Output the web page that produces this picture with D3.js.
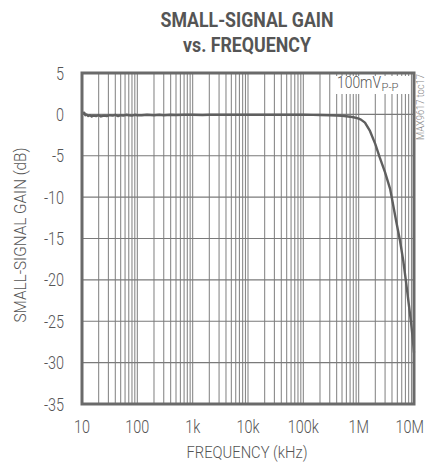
<!DOCTYPE html>
<html><head><meta charset="utf-8">
<script src="https://cdn.jsdelivr.net/npm/d3@7"></script>
<style>body{margin:0;background:#fff}</style>
</head><body><svg id="c" width="427" height="463"></svg>
<script>
const freq = [10, 10.5, 11, 11.5, 12, 13, 14, 15, 16, 18, 20, 22, 25, 28, 32, 36, 40, 45, 50, 56, 63, 70, 80, 90, 100, 120, 150, 200, 250, 300, 400, 500, 700, 1000, 1500, 2000, 3000, 5000, 7000, 10000, 15000, 20000, 30000, 50000, 70000, 100000, 150000, 200000, 300000, 400000, 500000, 600000, 700000, 800000, 900000, 1000000, 1100000, 1300000, 1600000, 2000000, 2400000, 3000000, 3700000, 4000000, 4700000, 5600000, 6400000, 7200000, 8000000, 8800000, 9400000, 10000000];
const gain = [0.3, 0.1, 0.2, -0.1, 0.0, -0.2, -0.1, -0.25, -0.15, -0.2, -0.1, -0.25, -0.15, -0.2, -0.1, -0.15, -0.05, -0.2, -0.1, -0.15, -0.05, -0.1, -0.15, -0.05, -0.1, -0.1, -0.05, -0.1, -0.05, -0.1, -0.05, -0.08, -0.05, -0.05, -0.08, -0.05, -0.05, -0.05, -0.05, -0.05, -0.05, -0.05, -0.05, -0.05, -0.05, -0.05, -0.06, -0.08, -0.1, -0.13, -0.17, -0.22, -0.28, -0.35, -0.43, -0.52, -0.63, -1.0, -2.0, -3.6, -5.2, -7.0, -9.0, -10.2, -12.7, -15.3, -17.7, -20.3, -22.8, -25.0, -26.8, -28.8];
const xTicks = [10, 100, 1e3, 1e4, 1e5, 1e6, 1e7];
const xTickLabels = ["10", "100", "1k", "10k", "100k", "1M", "10M"];
const yTicks = [5, 0, -5, -10, -15, -20, -25, -30, -35];
const titleLines = ["SMALL-SIGNAL GAIN", "vs. FREQUENCY"];
const xTitle = "FREQUENCY (kHz)";
const yTitle = "SMALL-SIGNAL GAIN (dB)";
const legendMain = "100mV";
const legendSub = "P-P";
const sideNote = "MAX9617 toc17";

const FONT = "Roboto,'Liberation Sans',sans-serif";
const svg = d3.select("#c");
const L = 82, R = 414, T = 73, B = 404;
const x = d3.scaleLog().domain([10, 1e7]).range([L, R]);
const y = d3.scaleLinear().domain([-35, 5]).range([B, T]);

function condense(sel, f) {
  sel.each(function () {
    const w = this.getComputedTextLength();
    d3.select(this).attr("textLength", w * f).attr("lengthAdjust", "spacingAndGlyphs");
  });
}

// grid
const minor = [];
for (let d = 10; d < 1e7; d *= 10) for (let k = 1; k <= 9; k++) minor.push(d * k);
svg.append("g").selectAll("line").data(minor.filter(v => v > 10 && v < 1e7)).join("line")
  .attr("x1", d => x(d)).attr("x2", d => x(d)).attr("y1", T).attr("y2", B)
  .attr("stroke", "#8a8a8a").attr("stroke-width", 1.1);
svg.append("g").selectAll("line").data(yTicks.filter(v => v > -35 && v < 5)).join("line")
  .attr("x1", L).attr("x2", R).attr("y1", d => y(d)).attr("y2", d => y(d))
  .attr("stroke", "#7a7a7a").attr("stroke-width", 1.1);

// legend box
svg.append("rect").attr("x", 334).attr("y", 76).attr("width", 76).attr("height", 18).attr("fill", "#fff");
const lt = svg.append("text").attr("x", 337).attr("y", 88).attr("font-family", FONT)
  .attr("font-weight", 300).attr("font-size", 16).attr("fill", "#555");
lt.append("tspan").attr("textLength", 44).attr("lengthAdjust", "spacingAndGlyphs").text(legendMain);
lt.append("tspan").attr("font-size", 11.5).attr("dy", 3).attr("dx", 0.5)
  .attr("textLength", 17).attr("lengthAdjust", "spacingAndGlyphs").text(legendSub);

// curve
const line = d3.line().x((d, i) => x(freq[i])).y(d => y(d));
svg.append("path").datum(gain).attr("d", line).attr("fill", "none")
  .attr("stroke", "#5f5f5f").attr("stroke-width", 2.4).attr("stroke-linejoin", "round");

// frame
svg.append("rect").attr("x", L).attr("y", T).attr("width", R - L).attr("height", B - T)
  .attr("fill", "none").attr("stroke", "#6a6a6a").attr("stroke-width", 3);

// axes labels
condense(svg.append("g").selectAll("text").data(yTicks).join("text")
  .attr("x", 64).attr("y", d => y(d) + 6.5).attr("text-anchor", "end")
  .attr("font-family", FONT).attr("font-weight", 300).attr("font-size", 18).attr("fill", "#555").text(d => d), 0.8);
condense(svg.append("g").selectAll("text").data(xTicks).join("text")
  .attr("x", (d, i) => i === xTicks.length - 1 ? 424 : x(d))
  .attr("y", 433).attr("text-anchor", (d, i) => i === xTicks.length - 1 ? "end" : "middle")
  .attr("font-family", FONT).attr("font-weight", 300).attr("font-size", 18).attr("fill", "#555").text((d, i) => xTickLabels[i]), 0.8);
svg.append("text").attr("x", 247).attr("y", 458).attr("text-anchor", "middle")
  .attr("font-family", FONT).attr("font-weight", 300).attr("font-size", 16.5).attr("fill", "#555")
  .attr("textLength", 121).attr("lengthAdjust", "spacingAndGlyphs").text(xTitle);
svg.append("text").attr("transform", "translate(26,235) rotate(-90)").attr("text-anchor", "middle")
  .attr("font-family", FONT).attr("font-weight", 300).attr("font-size", 16.5).attr("fill", "#555")
  .attr("textLength", 175).attr("lengthAdjust", "spacingAndGlyphs").text(yTitle);

// title
const tw = [173, 128];
svg.append("g").selectAll("text").data(titleLines).join("text")
  .attr("x", 247).attr("y", (d, i) => 27 + i * 25).attr("text-anchor", "middle")
  .attr("font-family", FONT).attr("font-weight", "bold").attr("font-size", 20).attr("fill", "#555")
  .attr("textLength", (d, i) => tw[i]).attr("lengthAdjust", "spacingAndGlyphs").text(d => d);

// side note
svg.append("text").attr("transform", "translate(424,140) rotate(-90)")
  .attr("font-family", FONT).attr("font-weight", 300).attr("font-size", 10).attr("fill", "#888")
  .attr("textLength", 66).attr("lengthAdjust", "spacingAndGlyphs").text(sideNote);
</script></body></html>
